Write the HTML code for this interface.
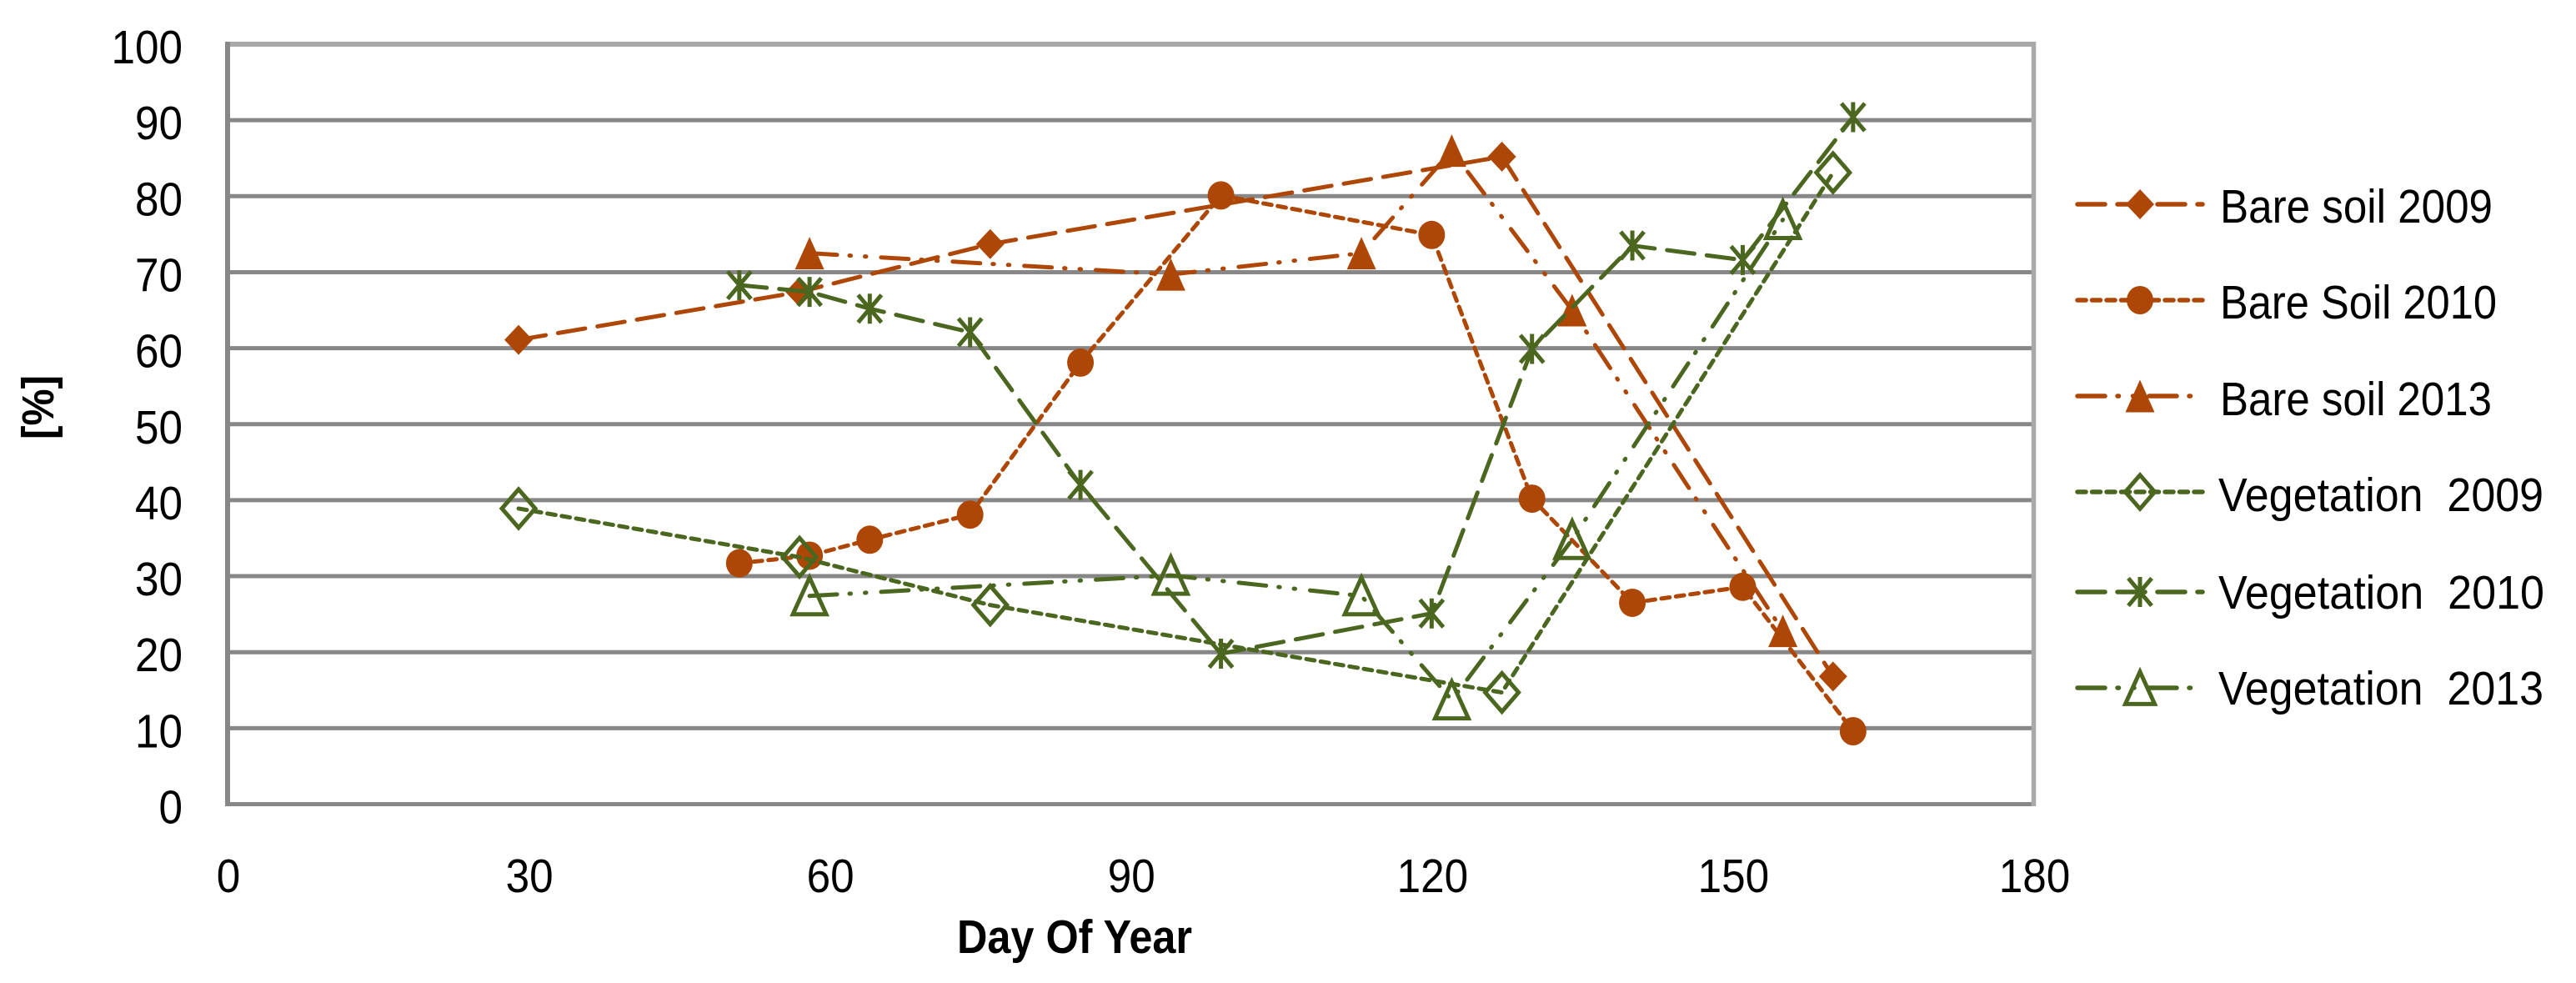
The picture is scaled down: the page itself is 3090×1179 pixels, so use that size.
<!DOCTYPE html>
<html lang="en">
<head>
<meta charset="utf-8">
<title>Bare soil and vegetation cover by day of year</title>
<style>
html,body{margin:0;padding:0;background:#fff;}
svg{display:block;font-family:"Liberation Sans",sans-serif;}
</style>
</head>
<body>
<svg id="chart" xmlns="http://www.w3.org/2000/svg" width="3090" height="1179" viewBox="0 0 3090 1179">
<rect width="3090" height="1179" fill="#fff"/>
<g id="grid"></g>
<g id="ylabels"></g>
<g id="xlabels"></g>
<text x="1148" y="1143" font-size="57" font-weight="bold" fill="#000" textLength="282" lengthAdjust="spacingAndGlyphs">Day Of Year</text>
<text transform="translate(64,527) rotate(-90)" font-size="54" font-weight="bold" fill="#000" textLength="77" lengthAdjust="spacingAndGlyphs">[%]</text>
<g id="series"></g>
<g id="legend"></g>
</svg>
<script>
const yTicks = [0, 10, 20, 30, 40, 50, 60, 70, 80, 90, 100];
const xTicks = [0, 30, 60, 90, 120, 150, 180];

const bareSoil2009Days = [29, 57, 76, 127, 160];
const bareSoil2009Values = [61.1, 67.4, 73.7, 85.2, 16.8];
const bareSoil2010Days = [51, 58, 64, 74, 85, 99, 120, 130, 140, 151, 162];
const bareSoil2010Values = [31.7, 32.7, 34.8, 38.1, 58.1, 80.1, 74.9, 40.2, 26.5, 28.6, 9.6];
const bareSoil2013Days = [58, 94, 113, 122, 134, 155];
const bareSoil2013Values = [72.5, 69.7, 72.5, 86, 65, 22.8];
const vegetation2009Days = [29, 57, 76, 127, 160];
const vegetation2009Values = [38.9, 32.5, 26.2, 14.7, 83.1];
const vegetation2010Days = [51, 58, 64, 74, 85, 99, 120, 130, 140, 151, 162];
const vegetation2010Values = [68.3, 67.4, 65.2, 62.1, 42, 19.8, 25.1, 59.9, 73.5, 71.6, 90.4];
const vegetation2013Days = [58, 94, 113, 122, 134, 155];
const vegetation2013Values = [27.4, 30.1, 27.4, 13.7, 34.8, 76.9];

const seriesNames = ['Bare soil 2009', 'Bare Soil 2010', 'Bare soil 2013', 'Vegetation  2009', 'Vegetation  2010', 'Vegetation  2013'];

const NS = 'http://www.w3.org/2000/svg';
const ORANGE = '#ae4705';
const GREEN = '#4b671f';
const LONG = '33 15';
const SHORT = '10 7.5';
const DOTS = '33 15 1.5 17 1.5 18';

function x(day) { return 273 + (day / 180) * (2439.5 - 273); }
function y(val) { return 964.5 - (val / 100) * (964.5 - 53); }

function make(tag, attrs, parent) {
  const el = document.createElementNS(NS, tag);
  for (const k in attrs) el.setAttribute(k, attrs[k]);
  parent.appendChild(el);
  return el;
}

function drawMarker(kind, cx, cy, color, scale, parent) {
  const g = make('g', {}, parent);
  
  
  if (kind === 'filled-diamond') {
    make('polygon', {points: [cx, cy - 18, cx + 17, cy, cx, cy + 18, cx - 17, cy].join(' '), fill: color}, g);
  } else if (kind === 'circle') {
    make('ellipse', {cx: cx, cy: cy, rx: 16, ry: 17, fill: color}, g);
  } else if (kind === 'filled-triangle') {
    make('polygon', {points: [cx, cy - 19.5, cx + 17.5, cy + 19.5, cx - 17.5, cy + 19.5].join(' '), fill: color}, g);
  } else if (kind === 'hollow-diamond') {
    const w = 20 * scale, h = 23 * scale;
    make('polygon', {points: [cx, cy - h, cx + w, cy, cx, cy + h, cx - w, cy].join(' '), fill: 'none', stroke: color, 'stroke-width': 5}, g);
  } else if (kind === 'hollow-triangle') {
    const w = 20 * scale, h = 22 * scale;
    make('polygon', {points: [cx, cy - h, cx + w, cy + h, cx - w, cy + h].join(' '), fill: 'none', stroke: color, 'stroke-width': 5}, g);
  } else if (kind === 'star') {
    const w = 14, h = 16.5;
    make('path', {d: 'M' + (cx - w) + ' ' + (cy - h) + 'L' + (cx + w) + ' ' + (cy + h) + 'M' + (cx + w) + ' ' + (cy - h) + 'L' + (cx - w) + ' ' + (cy + h) + 'M' + cx + ' ' + (cy - 18) + 'L' + cx + ' ' + (cy + 18), fill: 'none', stroke: color, 'stroke-width': 5}, g);
  }
}

/* gridlines and axes */
const gridG = document.getElementById('grid');
yTicks.forEach(function (t) {
  const line = make('line', {x1: 270, x2: 2437, y1: y(t), y2: y(t), stroke: t === 100 ? '#a9a9a9' : '#878787', 'stroke-width': t === 100 ? 6 : 5}, gridG);
  
  
});
const rightAxis = make('line', {x1: 2439.5, x2: 2439.5, y1: 50, y2: 967, stroke: '#a9a9a9', 'stroke-width': 5.5}, gridG);


const leftAxis = make('line', {x1: 273, x2: 273, y1: 50, y2: 967, stroke: '#878787', 'stroke-width': 6}, gridG);



/* tick labels */
const ylabelsG = document.getElementById('ylabels');
yTicks.forEach(function (t) {
  const s = String(t);
  const label = make('text', {x: 219, y: y(t) + 23, 'text-anchor': 'end', 'font-size': 57, fill: '#000', textLength: s.length * 28.5, lengthAdjust: 'spacingAndGlyphs'}, ylabelsG);
  
  
  label.textContent = s;
});
const xlabelsG = document.getElementById('xlabels');
xTicks.forEach(function (t) {
  const s = String(t);
  const label = make('text', {x: x(t) + 1, y: 1070, 'text-anchor': 'middle', 'font-size': 57, fill: '#000', textLength: s.length * 28.5, lengthAdjust: 'spacingAndGlyphs'}, xlabelsG);
  
  
  label.textContent = s;
});

/* series */
const seriesDays = [bareSoil2009Days, bareSoil2010Days, bareSoil2013Days, vegetation2009Days, vegetation2010Days, vegetation2013Days];
const seriesValues = [bareSoil2009Values, bareSoil2010Values, bareSoil2013Values, vegetation2009Values, vegetation2010Values, vegetation2013Values];
const seriesColors = [ORANGE, ORANGE, ORANGE, GREEN, GREEN, GREEN];
const seriesDashes = [LONG, SHORT, DOTS, SHORT, LONG, DOTS];
const seriesMarkers = ['filled-diamond', 'circle', 'filled-triangle', 'hollow-diamond', 'star', 'hollow-triangle'];
const legendTextWidths = [327, 332, 326, 390, 391, 390];
const legendLineY = [245, 360, 475, 590, 710, 825];
const legendTextY = [267, 382, 498, 613, 730, 845];

const seriesG = document.getElementById('series');
seriesNames.forEach(function (name, i) {
  const g = make('g', {}, seriesG);
  
  
  const pts = seriesDays[i].map(function (d, j) { return x(d) + ',' + y(seriesValues[i][j]); }).join(' ');
  const line = make('polyline', {points: pts, fill: 'none', stroke: seriesColors[i], 'stroke-width': 5, 'stroke-dasharray': seriesDashes[i], 'stroke-linecap': 'round', 'stroke-linejoin': 'round'}, g);
  
  
  seriesDays[i].forEach(function (d, j) {
    drawMarker(seriesMarkers[i], x(d), y(seriesValues[i][j]), seriesColors[i], 1, g);
  });
});

/* legend */
const legendG = document.getElementById('legend');
seriesNames.forEach(function (name, i) {
  const g = make('g', {}, legendG);
  
  
  const ly = legendLineY[i];
  const line = make('line', {x1: 2492, x2: 2642, y1: ly, y2: ly, stroke: seriesColors[i], 'stroke-width': 5.5, 'stroke-dasharray': seriesDashes[i], 'stroke-linecap': 'round'}, g);
  
  
  drawMarker(seriesMarkers[i], 2567, ly, seriesColors[i], 0.88, g);
  const label = make('text', {x: i > 2 ? 2661 : 2663, y: legendTextY[i], 'font-size': 57, fill: '#000', textLength: legendTextWidths[i], lengthAdjust: 'spacingAndGlyphs'}, g);
  
  
  label.style.whiteSpace = 'pre';
  label.textContent = name;
});
</script>
</body>
</html>
